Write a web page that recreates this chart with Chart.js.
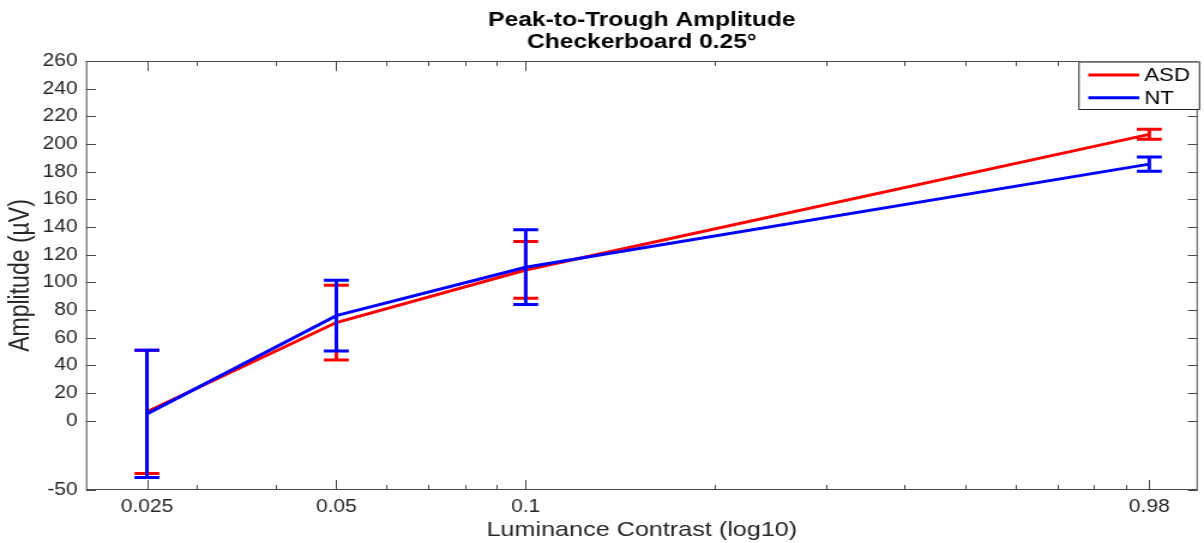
<!DOCTYPE html>
<html>
<head>
<meta charset="utf-8">
<title>Peak-to-Trough Amplitude</title>
<script src="https://cdn.jsdelivr.net/npm/chart.js@4/dist/chart.umd.min.js"></script>
<style>
  html, body { margin: 0; padding: 0; background: #fff; overflow: hidden; }
  /* the figure is laid out narrower and widened horizontally, like the exported plot */
  #wrap { width: 1004px; height: 543px; transform: scaleX(1.1992); transform-origin: 0 0; }
  canvas { display: block; }
</style>
</head>
<body>
<div id="wrap"><canvas id="chart" width="1004" height="543"></canvas></div>
<script>
// Luminance contrast levels (x, log scale)
const contrast = [0.025, 0.05, 0.1, 0.98];

// Mean peak-to-trough amplitude (µV) and error-bar half-lengths per group
const asdMean = [6.5, 71, 109, 207];
const asdErr  = [44.5, 27, 20.5, 3.6];
const ntMean  = [5, 76, 111, 185.5];
const ntErr   = [46, 25.5, 27, 5.2];

// Axis ticks
const xTickValues = [0.025, 0.05, 0.1, 0.98];
const xTickLabels = ['0.025', '0.05', '0.1', '0.98'];
const xMinorTicks = [0.03, 0.04, 0.06, 0.07, 0.08, 0.09, 0.2, 0.3, 0.4, 0.5, 0.6, 0.7, 0.8, 0.9];
const yTickValues = [-50, 0, 20, 40, 60, 80, 100, 120, 140, 160, 180, 200, 220, 240, 260];
const yTickLabels = ['-50', '0', '20', '40', '60', '80', '100', '120', '140', '160', '180', '200', '220', '240', '260'];

const FONT = "'Liberation Sans', Arial, Helvetica, sans-serif";
const INK = '#262626';
const SX = 1.1992; // horizontal widening applied by CSS

const toPoints = (xs, ys) => xs.map((x, i) => ({ x: x, y: ys[i] }));

// Vertical error bars with caps, drawn right after each dataset's line
const errorBars = {
  id: 'errorBars',
  afterDatasetDraw(chart, args) {
    const ds = chart.data.datasets[args.index];
    if (!ds.errors) return;
    const { ctx, scales: { x, y } } = chart;
    const cap = 10.4;
    ctx.save();
    ctx.strokeStyle = ds.borderColor;
    ctx.lineWidth = ds.borderWidth;
    ctx.lineCap = 'butt';
    ds.data.forEach((p, i) => {
      const e = ds.errors[i];
      const px = x.getPixelForValue(p.x);
      const yHi = y.getPixelForValue(p.y + e);
      const yLo = y.getPixelForValue(p.y - e);
      ctx.beginPath();
      ctx.moveTo(px, yHi); ctx.lineTo(px, yLo);
      ctx.moveTo(px - cap, yHi); ctx.lineTo(px + cap, yHi);
      ctx.moveTo(px - cap, yLo); ctx.lineTo(px + cap, yLo);
      ctx.stroke();
    });
    ctx.restore();
  }
};

// Boxed axes with inward tick marks on all four sides, plus a boxed legend
const axesBox = {
  id: 'axesBox',
  afterDraw(chart) {
    const { ctx, chartArea: a, scales: { x, y } } = chart;
    ctx.save();
    ctx.strokeStyle = '#4a4a4a';
    ctx.lineWidth = 1;
    ctx.strokeRect(a.left + 0.5, a.top + 0.5, a.right - a.left - 1, a.bottom - a.top - 1);
    ctx.beginPath();
    const yTick = 10 / SX;
    yTickValues.forEach(v => {
      const py = Math.round(y.getPixelForValue(v)) + 0.5;
      ctx.moveTo(a.left, py); ctx.lineTo(a.left + yTick, py);
      ctx.moveTo(a.right, py); ctx.lineTo(a.right - yTick, py);
    });
    const xTick = (v, len) => {
      const px = Math.round(x.getPixelForValue(v)) + 0.5;
      ctx.moveTo(px, a.bottom); ctx.lineTo(px, a.bottom - len);
      ctx.moveTo(px, a.top); ctx.lineTo(px, a.top + len);
    };
    xTickValues.forEach(v => xTick(v, 10));
    xMinorTicks.forEach(v => xTick(v, 5));
    ctx.stroke();

    // legend
    const bw = 101.5, bh = 48.5;
    const bx = a.right + 2 - bw, by = a.top + 0.5;
    ctx.fillStyle = '#fff';
    ctx.fillRect(bx, by, bw, bh);
    ctx.strokeStyle = INK;
    ctx.strokeRect(bx + 0.5, by + 0.5, bw - 1, bh - 1);
    ctx.font = '18.5px ' + FONT;
    ctx.textBaseline = 'middle';
    ctx.textAlign = 'left';
    chart.data.datasets.forEach((ds, i) => {
      const ly = by + 13.5 + i * 22.7;
      ctx.strokeStyle = ds.borderColor;
      ctx.lineWidth = 3;
      ctx.beginPath();
      ctx.moveTo(bx + 8.3, ly); ctx.lineTo(bx + 50.8, ly);
      ctx.stroke();
      ctx.fillStyle = '#000';
      ctx.fillText(ds.label, bx + 55, ly + 1);
    });
    ctx.restore();
  }
};

new Chart(document.getElementById('chart'), {
  type: 'line',
  data: {
    datasets: [
      { label: 'ASD', data: toPoints(contrast, asdMean), errors: asdErr,
        borderColor: '#ff0000', backgroundColor: '#ff0000', borderWidth: 3,
        pointRadius: 0, tension: 0, order: 2 },
      { label: 'NT', data: toPoints(contrast, ntMean), errors: ntErr,
        borderColor: '#0000ff', backgroundColor: '#0000ff', borderWidth: 3,
        pointRadius: 0, tension: 0, order: 1 }
    ]
  },
  options: {
    responsive: false,
    animation: false,
    devicePixelRatio: 1,
    layout: { padding: { left: 0, right: 5.25, top: 0, bottom: 0 } },
    plugins: {
      legend: { display: false },
      tooltip: { enabled: false },
      title: {
        display: true,
        fullSize: false,
        text: ['Peak-to-Trough Amplitude', 'Checkerboard 0.25°'],
        color: '#000',
        font: { family: FONT, size: 20.5, weight: 'bold', lineHeight: 1.08 },
        padding: { top: 9, bottom: 7.72 }
      }
    },
    scales: {
      x: {
        type: 'logarithmic',
        min: 0.02,
        max: 1.17,
        grid: { display: false, drawTicks: false },
        border: { display: false },
        afterBuildTicks: s => { s.ticks = xTickValues.map(v => ({ value: v })); },
        afterFit: s => { s.height = 53; },
        ticks: {
          autoSkip: false, maxRotation: 0, padding: 7,
          color: INK, font: { family: FONT, size: 17.5 },
          callback: (v, i) => xTickLabels[i]
        },
        title: {
          display: true, text: 'Luminance Contrast (log10)', color: INK,
          font: { family: FONT, size: 21, lineHeight: 1.2 }, padding: { top: 0, bottom: 0 }
        }
      },
      y: {
        type: 'linear',
        min: -50,
        max: 260,
        grid: { display: false, drawTicks: false },
        border: { display: false },
        afterBuildTicks: s => { s.ticks = yTickValues.map(v => ({ value: v })); },
        afterFit: s => { s.width = 71.7; },
        ticks: {
          autoSkip: false, padding: 7,
          color: INK, font: { family: FONT, size: 17.5 },
          callback: (v, i) => yTickLabels[i]
        },
        title: {
          display: true, text: 'Amplitude (µV)', color: INK,
          font: { family: FONT, size: 23, lineHeight: 1.2 }, padding: { top: 4.2, bottom: 0 }
        }
      }
    }
  },
  plugins: [errorBars, axesBox]
});
</script>
</body>
</html>
